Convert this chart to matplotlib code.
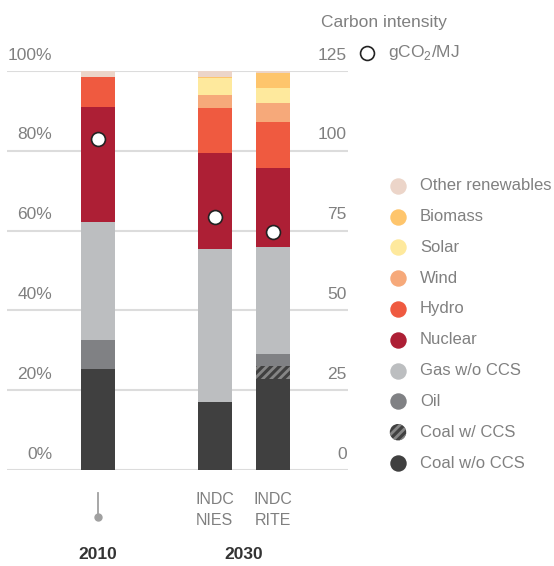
import matplotlib
matplotlib.use("Agg")
import matplotlib.pyplot as plt
import numpy as np

# ── Data ───────────────────────────────────────────────────────────────────
scenarios = ["2010", "INDC\nNIES", "INDC\nRITE"]
positions = [0, 2, 3]

categories = ["Coal w/o CCS", "Coal w/ CCS", "Oil", "Gas w/o CCS", "Nuclear",
              "Hydro", "Wind", "Solar", "Biomass", "Other renewables"]
coal_wo_ccs = [25.3, 17.0, 22.8]
coal_w_ccs = [0.0, 0.0, 3.2]
oil = [7.2, 0.0, 3.0]
gas = [29.6, 38.5, 27.0]
nuclear = [28.9, 24.0, 19.8]
hydro = [7.5, 11.3, 11.5]
wind = [0.0, 3.2, 4.7]
solar = [0.0, 4.3, 3.8]
biomass = [0.0, 0.3, 3.6]
other_ren = [1.5, 1.4, 0.6]
series = [coal_wo_ccs, coal_w_ccs, oil, gas, nuclear, hydro, wind, solar,
          biomass, other_ren]

carbon_intensity = [103.6, 79.4, 74.7]   # gCO2/MJ

pct_ticks = [0, 20, 40, 60, 80, 100]
ci_ticks = [0, 25, 50, 75, 100, 125]

# ── Style ──────────────────────────────────────────────────────────────────
FONT = ["Liberation Sans", "DejaVu Sans"]
plt.rcParams["font.family"] = FONT
plt.rcParams["mathtext.fontset"] = "custom"
plt.rcParams["mathtext.rm"] = "Liberation Sans"
plt.rcParams["hatch.linewidth"] = 2.0

TEXT = "#808080"
DARK = "#333333"
GRID = "#dcdcdc"
colors = ["#404040", "#404040", "#808184", "#bcbec0", "#ad1f35",
          "#ef5a40", "#f6a97a", "#fee99d", "#fec56c", "#ecd5c9"]

fig = plt.figure(figsize=(5.54, 5.66), dpi=100)
W, H = 554, 566
ax = fig.add_axes([7 / W, 96 / H, 341 / W, 399 / H])
ax.set_xlim(-1.556, 4.28)
ax.set_ylim(0, 100)
for s in ax.spines.values():
    s.set_visible(False)
ax.set_xticks([])
ax.set_yticks([])

for v in pct_ticks:
    ax.axhline(v, color=GRID, lw=1.5, zorder=0)

# ── Stacked bars ───────────────────────────────────────────────────────────
bottom = np.zeros(len(positions))
for name, vals, c in zip(categories, series, colors):
    vals = np.array(vals)
    if name == "Coal w/ CCS":
        ax.bar(positions, vals, 0.58, bottom=bottom, color=c,
               edgecolor="#858585", linewidth=0, hatch="////", zorder=2)
    else:
        ax.bar(positions, vals, 0.58, bottom=bottom, color=c,
               linewidth=0, zorder=2)
    bottom += vals

# ── Carbon intensity markers (right scale) ─────────────────────────────────
ax2 = ax.twinx()
ax2.set_ylim(0, 125)
ax2.set_axis_off()
ax2.plot(positions, carbon_intensity, ls="", marker="o", markersize=10,
         markerfacecolor="white", markeredgecolor="#222222",
         markeredgewidth=1.2, zorder=5)

# ── Tick labels sitting above the grid lines ───────────────────────────────
for v in pct_ticks:
    ax.annotate(f"{v}%", xy=(0.132, v), xycoords=ax.get_yaxis_transform(),
                xytext=(0, 6), textcoords="offset points",
                ha="right", va="bottom", fontsize=12.5, color=TEXT)
for v in ci_ticks:
    ax2.annotate(f"{v}", xy=(0.997, v), xycoords=ax2.get_yaxis_transform(),
                 xytext=(0, 6), textcoords="offset points",
                 ha="right", va="bottom", fontsize=12.5, color=TEXT)

# ── Carbon intensity header ────────────────────────────────────────────────
fig.text(321 / W, 1 - 23 / H, "Carbon intensity", fontsize=12.5,
         color=TEXT, va="center", ha="left")
fig.lines.append(plt.Line2D([367 / W], [1 - 53 / H], marker="o",
                            markersize=10, markerfacecolor="white",
                            markeredgecolor="#222222", markeredgewidth=1.2,
                            transform=fig.transFigure))
fig.text(388 / W, 1 - 53 / H, r"gCO$_\mathregular{2}$/MJ", fontsize=12.5,
         color=TEXT, va="center", ha="left")

# ── Category labels below bars ─────────────────────────────────────────────
xt = ax.get_xaxis_transform()
for p, lab in zip(positions[1:], scenarios[1:]):
    ax.text(p, -0.1, lab, transform=xt, ha="center", va="center",
            fontsize=11.5, color=TEXT, linespacing=1.55)
ax.plot([positions[0], positions[0]], [-0.057, -0.117], transform=xt,
        color="#a0a0a0", lw=1.3, clip_on=False)
ax.plot([positions[0]], [-0.117], transform=xt, marker="o", markersize=5,
        color="#a0a0a0", clip_on=False)
ax.text(positions[0], -0.213, scenarios[0], transform=xt, ha="center",
        va="center", fontsize=12.5, fontweight="bold", color=DARK)
ax.text(np.mean(positions[1:]), -0.213, "2030", transform=xt, ha="center",
        va="center", fontsize=12.5, fontweight="bold", color=DARK)

# ── Legend ─────────────────────────────────────────────────────────────────
lax = fig.add_axes([0, 0, 1, 1])
lax.set_xlim(0, W)
lax.set_ylim(H, 0)
lax.set_axis_off()
lax.patch.set_alpha(0)
for i, (name, c) in enumerate(zip(categories, colors)):
    y = 463 - i * 30.8
    if name == "Coal w/ CCS":
        lax.scatter([398], [y], s=140, color=c, edgecolor="#858585",
                    linewidth=0, hatch="////")
    else:
        lax.scatter([398], [y], s=140, color=c, linewidth=0)
    lax.text(420, y, name, fontsize=12, color=TEXT, va="center", ha="left")

fig.savefig("out.png", dpi=100)
